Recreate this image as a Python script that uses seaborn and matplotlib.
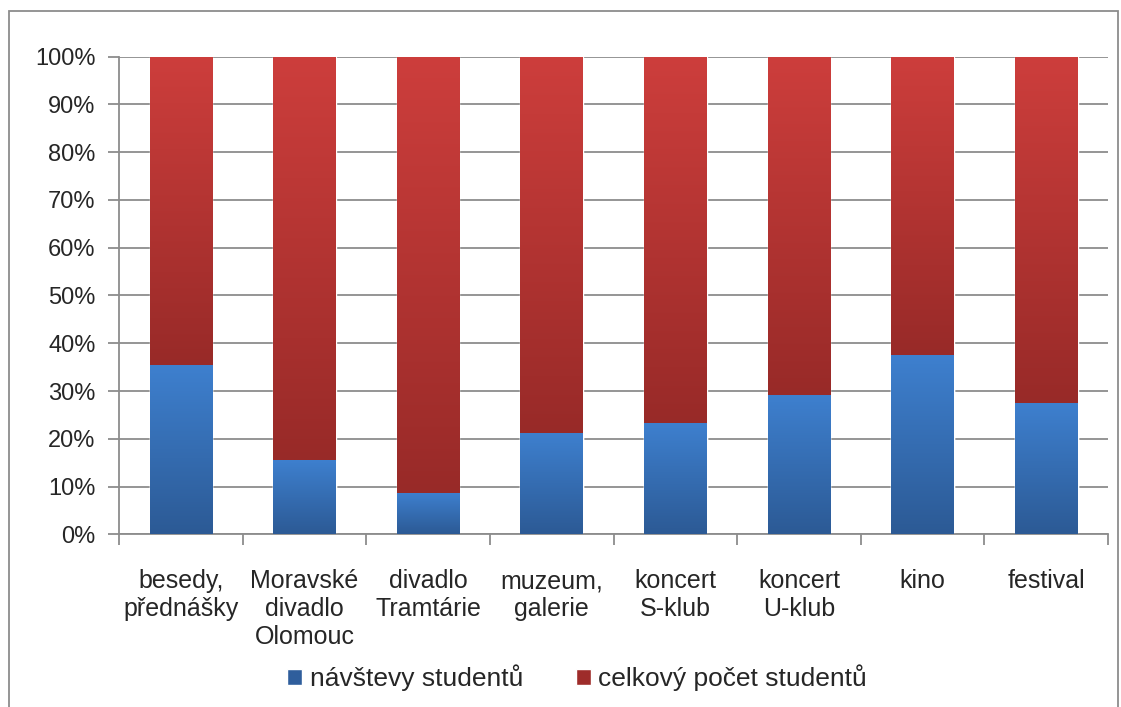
import numpy as np
import pandas as pd
import matplotlib
matplotlib.use("Agg")
import matplotlib.pyplot as plt
import seaborn as sns
from matplotlib.colors import LinearSegmentedColormap
from matplotlib.patches import Patch, Rectangle
from matplotlib.ticker import FixedLocator

# Data (share of students, %)
categories = ["besedy,\npřednášky", "Moravské\ndivadlo\nOlomouc", "divadlo\nTramtárie",
              "muzeum,\ngalerie", "koncert\nS-klub", "koncert\nU-klub", "kino", "festival"]
visits = [35.5, 15.5, 8.7, 21.3, 23.4, 29.2, 37.5, 27.5]
totals = [100, 100, 100, 100, 100, 100, 100, 100]
series_names = ["návštevy studentů", "celkový počet studentů"]

blue = "#2F5E9C"
red = "#9E2C2A"
blue_grad = LinearSegmentedColormap.from_list("b", ["#2C5A95", "#3E80CF"])
red_grad = LinearSegmentedColormap.from_list("r", ["#982A28", "#CD3E3C"])
grey = "#8C8C8C"

sns.set_style("white")
plt.rcParams['font.family'] = ['Liberation Sans', 'DejaVu Sans']

fig = plt.figure(figsize=(11.21, 7.07), dpi=100)
ax = fig.add_axes([0.1062, 0.2443, 0.8823, 0.6755])

df = pd.DataFrame({"kategorie": categories, "navstevy": visits, "celkem": totals})
sns.barplot(data=df, x="kategorie", y="celkem", color=red, width=0.507, saturation=1, ax=ax, zorder=2)
sns.barplot(data=df, x="kategorie", y="navstevy", color=blue, width=0.507, saturation=1, ax=ax, zorder=2)

# gradient fill for each bar segment
grad = np.linspace(0, 1, 256).reshape(-1, 1)
n = len(categories)
for i in range(n):
    rp = ax.patches[i]
    bp = ax.patches[n + i]
    x0, w = bp.get_x(), bp.get_width()
    vb = bp.get_height()
    vt = rp.get_height()
    ax.imshow(grad, cmap=blue_grad, origin="lower", aspect="auto",
              extent=(x0, x0 + w, 0, vb), zorder=3)
    ax.imshow(grad, cmap=red_grad, origin="lower", aspect="auto",
              extent=(x0, x0 + w, vb, vt), zorder=3)

ax.set_xlim(-0.5, n - 0.5)
ax.set_ylim(0, 100)
ax.set_yticks(range(0, 101, 10))
ax.set_yticklabels([f"{v}%" for v in range(0, 101, 10)], fontsize=17)
ax.set_xticks(range(n))
ax.set_xticklabels(categories, fontsize=18, linespacing=1.22)
ax.xaxis.set_minor_locator(FixedLocator(np.arange(-0.5, n, 1)))
ax.tick_params(axis="x", which="major", length=0, pad=25)
ax.tick_params(axis="x", which="minor", length=8, width=1.3, color=grey, direction="out", bottom=True)
ax.tick_params(axis="y", length=8, width=1.3, color=grey, direction="out", left=True, pad=9)
ax.set_xlabel("")
ax.set_ylabel("")

ax.yaxis.grid(True, color=grey, linewidth=1.3)
ax.set_axisbelow(True)
for side in ["top", "right"]:
    ax.spines[side].set_visible(False)
for side in ["left", "bottom"]:
    ax.spines[side].set_color(grey)
    ax.spines[side].set_linewidth(1.3)

handles = [Patch(facecolor=blue), Patch(facecolor=red)]
fig.legend(handles, series_names, loc="center", bbox_to_anchor=(0.515, 0.041), ncol=2,
           frameon=False, fontsize=19, handlelength=0.55, handleheight=0.6,
           handletextpad=0.3, columnspacing=2.0)

# chart frame (bottom edge falls just outside the image)
fig.patches.append(Rectangle((0.008, -0.01), 0.989, 0.9945, transform=fig.transFigure,
                             fill=False, edgecolor=grey, linewidth=1.3))

fig.savefig("out.png", dpi=100)
